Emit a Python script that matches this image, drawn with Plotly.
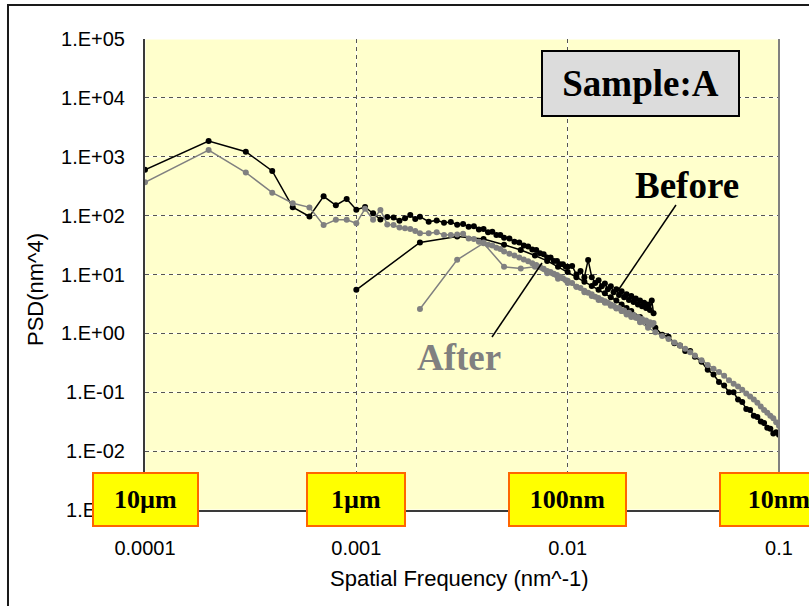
import math
import plotly.graph_objects as go

# ---- spatial frequency grids (nm^-1) ----
long_freq = [
    0.0001, 0.0002, 0.0003, 0.0004, 0.0005, 0.0006, 0.0007, 0.0008, 0.0009, 0.0010,
    0.0011, 0.0012, 0.0013, 0.0014, 0.0015, 0.0016, 0.0017, 0.0018, 0.0019, 0.0020,
    0.0022, 0.0024, 0.0026, 0.0028, 0.0030, 0.0032, 0.0034, 0.0036, 0.0038, 0.0040,
    0.0042, 0.0044, 0.0046, 0.0048, 0.0050,
    0.0053, 0.0056, 0.0059, 0.0062, 0.0065, 0.0068, 0.0071, 0.0074, 0.0077, 0.0080,
    0.0083, 0.0086, 0.0089, 0.0092, 0.0095, 0.0098, 0.0100,
    0.0105, 0.0110, 0.0115, 0.0120, 0.0125, 0.0130, 0.0135, 0.0140, 0.0145, 0.0150,
    0.0155, 0.0160, 0.0165, 0.0170, 0.0175, 0.0180, 0.0185, 0.0190, 0.0195, 0.0200,
    0.0205, 0.0210, 0.0215, 0.0220, 0.0225, 0.0230, 0.0235, 0.0240, 0.0245, 0.0250, 0.0255,
]

short_freq = [
    0.001, 0.002, 0.003, 0.004, 0.005, 0.006, 0.007, 0.008, 0.009, 0.010,
    0.011, 0.012, 0.013, 0.014, 0.015, 0.016, 0.017, 0.018, 0.019, 0.020,
    0.022, 0.024, 0.026, 0.028, 0.030, 0.032, 0.034, 0.036, 0.038, 0.040,
    0.043, 0.046, 0.049, 0.052, 0.055, 0.058, 0.061, 0.064, 0.067, 0.070,
    0.073, 0.076, 0.079, 0.082, 0.085, 0.088, 0.091, 0.094, 0.097, 0.100,
]

# ---- PSD (nm^4), Before ----
before_long_psd = [
    600, 1850, 1220, 575, 139, 97, 213, 150, 192, 126,
    140, 110, 86, 95, 93, 82, 90, 102, 88, 96,
    79, 83, 76, 78, 70, 72, 65, 66, 58, 59,
    52, 53, 47, 47, 42,
    41, 36, 35, 31, 30, 26.5, 26, 23, 22, 19.5,
    19.5, 17, 17, 15, 15, 13.5, 13.5,
    14, 10, 11.5, 9, 17.7, 9, 7.2, 8, 6.3, 7,
    5.6, 6.3, 5.0, 5.6, 4.5, 5.2, 4.1, 4.6, 3.7, 4.3,
    3.4, 3.9, 3.1, 3.6, 2.9, 3.3, 2.7, 3.1, 2.5, 3.6, 2.2,
]

before_short_psd = [
    5.5, 35, 44, 40, 32, 26, 21, 17, 13.5, 11,
    9, 7.5, 6.4, 5.5, 4.8, 4.1, 3.6, 3.1, 2.7, 2.4,
    1.9, 1.45, 1.25, 0.95, 0.88, 0.68, 0.62, 0.5, 0.5, 0.4,
    0.33, 0.24, 0.2, 0.15, 0.13, 0.1, 0.1, 0.075, 0.068, 0.052,
    0.05, 0.04, 0.038, 0.032, 0.03, 0.025, 0.024, 0.02, 0.021, 0.019,
]

# ---- PSD (nm^4), After ----
after_long_psd = [
    369, 1300, 540, 245, 162, 138, 69, 85, 85, 74,
    131, 85, 125, 71, 69, 63, 61, 59, 55, 50,
    50, 52, 47, 47, 48, 49, 41, 40, 36, 35,
    32, 31, 28.5, 27, 24.5,
    22.5, 21, 19.5, 18, 16.8, 15.5, 14.5, 13.5, 12.5, 11.5,
    11, 10.3, 9.8, 9.2, 8.6, 8.0, 7.8,
    7.2, 6.2, 5.9, 5.0, 4.9, 4.3, 4.2, 3.7, 3.7, 3.3,
    3.3, 2.95, 2.95, 2.65, 2.7, 2.4, 2.45, 2.2, 2.25, 2.0,
    2.05, 1.85, 1.9, 1.7, 1.75, 1.6, 1.65, 1.5, 1.55, 1.4, 1.5,
]

after_short_psd = [
    None, 2.6, 17.8, 34, 13.5, 12.6, 13.5, 10.5, 8.5, 7.2,
    6.2, 5.3, 4.6, 4.0, 3.5, 3.1, 2.7, 2.4, 2.1, 1.9,
    1.55, 1.25, 1.05, 0.9, 0.8, 0.7, 0.62, 0.55, 0.48, 0.42,
    0.35, 0.29, 0.25, 0.22, 0.19, 0.16, 0.14, 0.125, 0.11, 0.095,
    0.085, 0.075, 0.066, 0.057, 0.05, 0.045, 0.04, 0.036, 0.031, 0.027,
]

# ---- axes ----
x_ticks = [0.0001, 0.001, 0.01, 0.1]
x_tick_text = ["0.0001", "0.001", "0.01", "0.1"]
y_ticks = [1e-3, 1e-2, 1e-1, 1e0, 1e1, 1e2, 1e3, 1e4, 1e5]
y_tick_text = ["1.E-03", "1.E-02", "1.E-01", "1.E+00", "1.E+01",
               "1.E+02", "1.E+03", "1.E+04", "1.E+05"]

# wavelength badges sitting on the decade ticks
badge_freq = [0.0001, 0.001, 0.01, 0.1]
badge_text = ["10µm", "1µm", "100nm", "10nm"]
badge_width = [103, 96, 115, 116]

BLACK = "#000000"
GRAY = "#808080"
SANS = "Liberation Sans, Arial, sans-serif"
SERIF = "Liberation Serif, Times New Roman, serif"

fig = go.Figure()


def add_series(freq, psd, color):
    fig.add_trace(go.Scatter(
        x=freq, y=psd, mode="lines+markers",
        line=dict(color=color, width=1.5),
        marker=dict(color=color, size=6),
        showlegend=False, hoverinfo="x+y",
    ))


add_series(long_freq, before_long_psd, BLACK)
add_series(short_freq, before_short_psd, BLACK)
add_series(long_freq, after_long_psd, GRAY)
add_series(short_freq, after_short_psd, GRAY)

shapes = []
# white underlay behind the dashed grid (shape coords on log axes are data values)
for v in y_ticks:
    shapes.append(dict(type="line", layer="below", xref="paper", yref="y",
                       x0=0, x1=1, y0=v, y1=v,
                       line=dict(color="white", width=1)))
for v in x_ticks:
    shapes.append(dict(type="line", layer="below", xref="x", yref="paper",
                       x0=v, x1=v, y0=0, y1=1,
                       line=dict(color="white", width=1)))
# right edge of the plot area
shapes.append(dict(type="line", xref="paper", yref="paper", x0=1, x1=1, y0=0, y1=1,
                   line=dict(color="#808080", width=2)))
# outer chart frame
shapes.append(dict(type="rect", xref="paper", yref="paper",
                   x0=-0.2161, x1=1.06, y0=-0.22, y1=1.0722,
                   line=dict(color="#1a1a1a", width=2), fillcolor="rgba(0,0,0,0)"))
# leader lines for the series labels
shapes.append(dict(type="line", xref="paper", yref="paper",
                   x0=0.8375, y0=0.6476, x1=0.7445, y1=0.4628,
                   line=dict(color="black", width=1.5)))
shapes.append(dict(type="line", xref="paper", yref="paper",
                   x0=0.5473, y0=0.3673, x1=0.6262, y1=0.5244,
                   line=dict(color="black", width=1.5)))

annotations = [
    dict(text="<b>Sample:A</b>", xref="paper", yref="paper", x=0.7815, y=0.9055,
         showarrow=False, font=dict(family=SERIF, size=37, color="black"),
         bgcolor="#DCDCDC", bordercolor="black", borderwidth=2, borderpad=0,
         width=195, height=63, xanchor="center", yanchor="middle"),
    dict(text="<b>Before</b>", xref="paper", yref="paper", x=0.855, y=0.69,
         showarrow=False, font=dict(family=SERIF, size=37, color="black"),
         xanchor="center", yanchor="middle"),
    dict(text="<b>After</b>", xref="paper", yref="paper", x=0.4953, y=0.3248,
         showarrow=False, font=dict(family=SERIF, size=37, color=GRAY),
         xanchor="center", yanchor="middle"),
    dict(text="PSD(nm^4)", xref="paper", yref="paper", x=-0.1735, y=0.467,
         showarrow=False, textangle=-90, font=dict(family=SANS, size=22, color="black"),
         xanchor="center", yanchor="middle"),
    dict(text="Spatial Frequency (nm^-1)", xref="paper", yref="paper", x=0.4968, y=-0.1444,
         showarrow=False, font=dict(family=SANS, size=22, color="black"),
         xanchor="center", yanchor="middle"),
]
for f, t, w in zip(badge_freq, badge_text, badge_width):
    annotations.append(dict(
        text="<b>" + t + "</b>", xref="x", yref="paper", x=math.log10(f), y=0.0223,
        showarrow=False, font=dict(family=SERIF, size=26, color="black"),
        bgcolor="#FFFF00", bordercolor="#FF6600", borderwidth=2, borderpad=0,
        width=w, height=51, xanchor="center", yanchor="middle"))

axis_common = dict(
    type="log", showgrid=True, gridcolor="#555555", gridwidth=1, griddash="4px,4px",
    zeroline=False, showline=True, linecolor="#3a3a3a", linewidth=2,
    ticks="outside", tickcolor="rgba(0,0,0,0)",
    tickfont=dict(family=SANS, size=20, color="black"),
)

fig.update_layout(
    width=809, height=606,
    margin=dict(l=145, r=30, t=39, b=96),
    paper_bgcolor="white", plot_bgcolor="#FFFFCC",
    xaxis=dict(range=[-4, -1], tickvals=x_ticks, ticktext=x_tick_text, ticklen=19, **axis_common),
    yaxis=dict(range=[-3, 5], tickvals=y_ticks, ticktext=y_tick_text, ticklen=14, **axis_common),
    shapes=shapes, annotations=annotations,
)

fig.write_html("out.html")
